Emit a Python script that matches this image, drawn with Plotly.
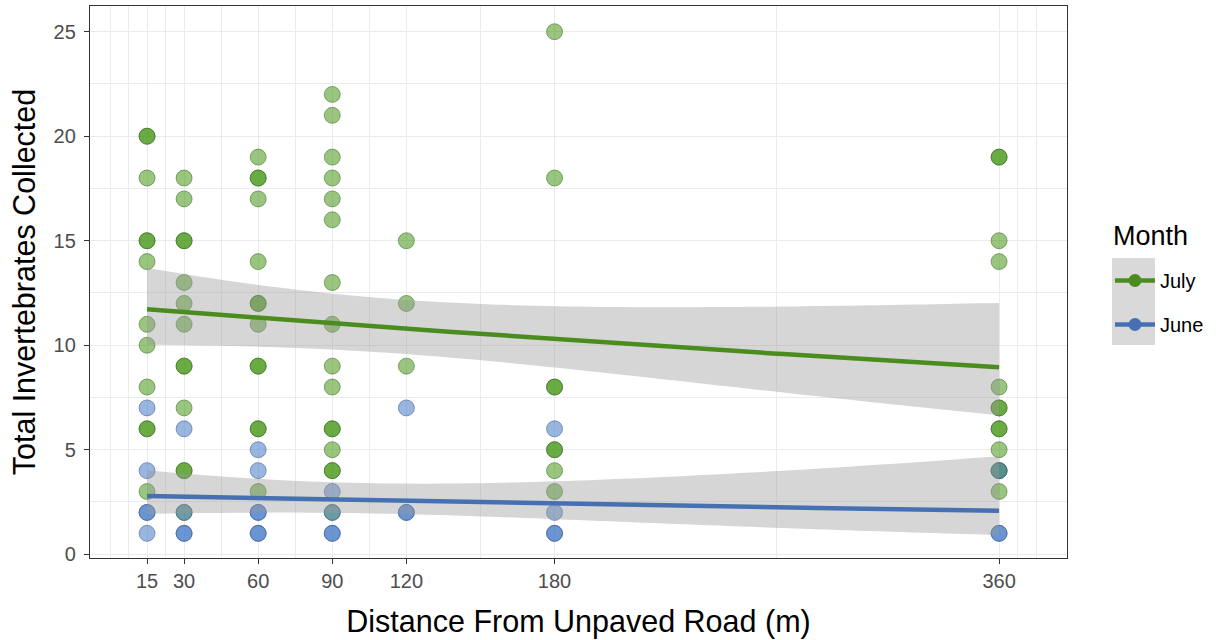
import numpy as np
import plotly.graph_objects as go

# ---------------- data ----------------
distance_breaks = [15, 30, 60, 90, 120, 180, 360]
distance_labels = ["15", "30", "60", "90", "120", "180", "360"]

july_distance = ([15] * 12 + [30] * 13 + [60] * 13 + [90] * 16 + [120] * 3 + [180] * 8 + [360] * 13)
july_count = ([20, 20, 18, 15, 15, 14, 11, 10, 8, 6, 6, 3]
              + [18, 17, 15, 15, 13, 12, 11, 9, 9, 7, 4, 4, 2]
              + [19, 18, 18, 17, 14, 12, 12, 11, 9, 9, 6, 6, 3]
              + [22, 21, 19, 18, 17, 16, 13, 11, 9, 8, 6, 6, 5, 4, 4, 2]
              + [15, 12, 9]
              + [25, 18, 8, 8, 5, 5, 4, 3]
              + [19, 19, 15, 14, 8, 7, 7, 6, 6, 5, 4, 4, 3])

june_distance = ([15] * 5 + [30] * 4 + [60] * 6 + [90] * 4 + [120] * 3 + [180] * 4 + [360] * 3)
june_count = ([7, 4, 2, 2, 1]
              + [6, 2, 1, 1]
              + [5, 4, 2, 2, 1, 1]
              + [3, 2, 1, 1]
              + [7, 2, 2]
              + [6, 2, 1, 1]
              + [4, 1, 1])

months = ["July", "June"]
line_colors = {"July": "rgb(74,140,30)", "June": "rgb(70,112,178)"}
point_colors = {"July": "rgba(70,150,20,0.55)", "June": "rgba(70,122,198,0.55)"}
edge_colors = {"July": "rgba(60,110,40,0.55)", "June": "rgba(60,90,140,0.55)"}


def quasipoisson_smooth(x, y, n=80):
    x = np.asarray(x, float)
    y = np.asarray(y, float)
    X = np.column_stack([np.ones_like(x), x])
    beta = np.array([np.log(y.mean()), 0.0])
    for _ in range(100):
        eta = X @ beta
        mu = np.exp(eta)
        z = eta + (y - mu) / mu
        XtW = X.T * mu
        beta_new = np.linalg.solve(XtW @ X, XtW @ z)
        if np.max(np.abs(beta_new - beta)) < 1e-12:
            beta = beta_new
            break
        beta = beta_new
    mu = np.exp(X @ beta)
    phi = np.sum((y - mu) ** 2 / mu) / (len(y) - 2)
    cov = np.linalg.inv((X.T * mu) @ X) * phi
    xg = np.linspace(x.min(), x.max(), n)
    Xg = np.column_stack([np.ones_like(xg), xg])
    eta_g = Xg @ beta
    se = np.sqrt(np.einsum("ij,jk,ik->i", Xg, cov, Xg))
    z = 1.959964
    return xg, np.exp(eta_g), np.exp(eta_g - z * se), np.exp(eta_g + z * se)


data = {"July": (july_distance, july_count), "June": (june_distance, june_count)}
fits = {m: quasipoisson_smooth(*data[m]) for m in months}

fig = go.Figure()

# points
for m in months:
    xs, ys = data[m]
    fig.add_trace(go.Scatter(
        x=xs, y=ys, mode="markers", showlegend=False,
        marker=dict(size=16, color=point_colors[m],
                    line=dict(width=1, color=edge_colors[m])),
        hoverinfo="skip"))

# confidence ribbons
for m in months:
    xg, fit, lo, hi = fits[m]
    fig.add_trace(go.Scatter(
        x=np.concatenate([xg, xg[::-1]]), y=np.concatenate([hi, lo[::-1]]),
        fill="toself", fillcolor="rgba(153,153,153,0.4)", mode="none",
        showlegend=False, hoverinfo="skip"))
# fitted lines
for m in months:
    xg, fit, lo, hi = fits[m]
    fig.add_trace(go.Scatter(
        x=xg, y=fit, mode="lines", showlegend=False,
        line=dict(color=line_colors[m], width=4.5), hoverinfo="skip"))

# legend entries
for m in months:
    fig.add_trace(go.Scatter(
        x=[None], y=[None], mode="lines+markers", name=m, legendgroup=m,
        line=dict(color=line_colors[m], width=4.5),
        marker=dict(size=13, color=line_colors[m])))

font_family = "Liberation Sans, Arial, sans-serif"

fig.update_layout(
    width=1223, height=640,
    margin=dict(l=90, r=156, t=6, b=82),
    paper_bgcolor="white", plot_bgcolor="white",
    font=dict(family=font_family, color="#000000"),
    xaxis=dict(
        range=[-8.1, 387.5], tickmode="array", tickvals=distance_breaks,
        ticktext=distance_labels, ticks="outside", ticklen=5, tickcolor="#333333",
        tickfont=dict(size=20, color="#4d4d4d"),
        showline=True, mirror=True, linecolor="#333333", linewidth=1.3,
        showgrid=True, gridcolor="#ebebeb", gridwidth=1, zeroline=False,
        minor=dict(tickmode="array",
                   tickvals=[0, 7.5, 22.5, 45, 75, 105, 150, 270, 367.5, 375],
                   showgrid=True, gridcolor="#ebebeb", gridwidth=1, ticklen=0),
        title=dict(text="Distance From Unpaved Road (m)", font=dict(size=30.5, color="#000000"),
                   standoff=19),
    ),
    yaxis=dict(
        range=[-0.18, 26.23], tickmode="linear", tick0=0, dtick=5,
        ticks="outside", ticklen=5, tickcolor="#333333",
        tickfont=dict(size=20, color="#4d4d4d"), ticklabelstandoff=4,
        showline=True, mirror=True, linecolor="#333333", linewidth=1.3,
        showgrid=True, gridcolor="#ebebeb", gridwidth=1, zeroline=False,
        minor=dict(tick0=0, dtick=2.5, showgrid=True, gridcolor="#ebebeb",
                   gridwidth=1, ticklen=0),
        title=dict(text="Total Invertebrates Collected", font=dict(size=30.5, color="#000000"),
                   standoff=8),
    ),
    legend=dict(
        x=1.044, y=0.538, xanchor="left", yanchor="top",
        font=dict(size=20), traceorder="grouped", tracegroupgap=15,
        bgcolor="rgba(0,0,0,0)", itemwidth=40,
    ),
    annotations=[dict(text="Month", xref="paper", yref="paper", x=1.045, y=0.583,
                      xanchor="left", yanchor="middle", showarrow=False,
                      font=dict(size=27, color="#000000"))],
    shapes=[dict(type="rect", xref="paper", yref="paper",
                 x0=1.046, x1=1.090, y0=0.386, y1=0.5435,
                 fillcolor="#d9d9d9", line=dict(width=0), layer="below")],
)

fig.write_html("out.html")
